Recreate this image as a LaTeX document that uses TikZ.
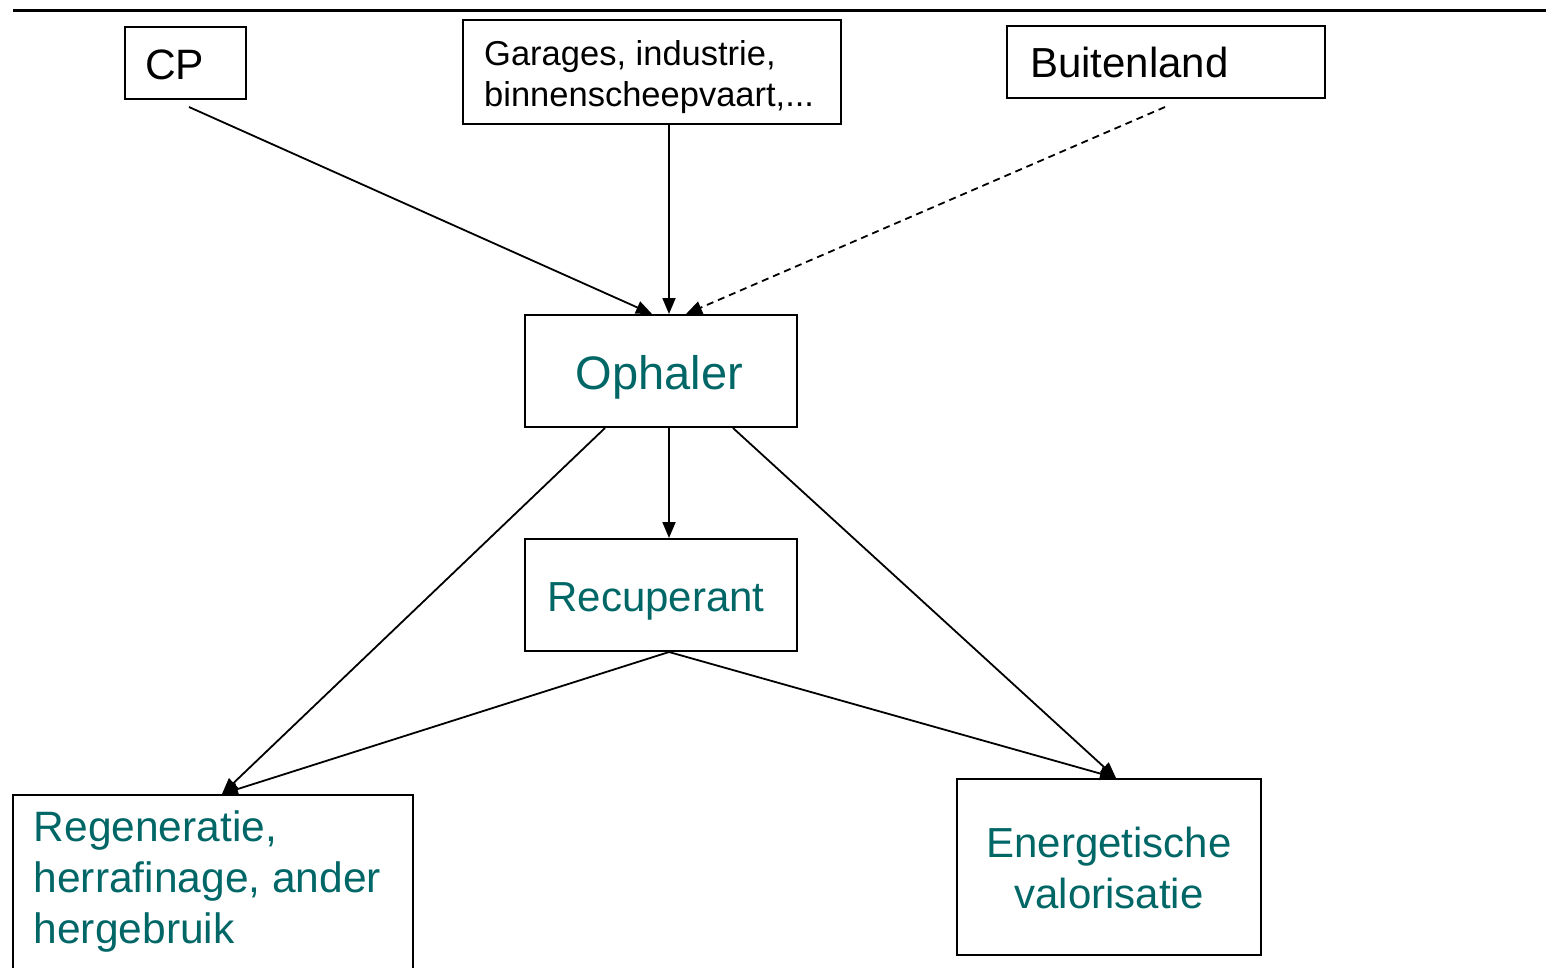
\documentclass[tikz,border=0pt]{standalone}
\usepackage{fontspec}
\setmainfont{Liberation Sans}
\usetikzlibrary{arrows.meta,calc}
\definecolor{tealtext}{RGB}{0,102,102}
\begin{document}
\begin{tikzpicture}[x=1pt,y=-1pt,
  box/.style={draw=black,line width=2pt,rectangle,inner sep=0pt},
  lbl/.style={inner sep=0pt,text=black},
  tl/.style={inner sep=0pt,text=tealtext},
  arr/.style={draw=black,line width=1.8pt,-{Triangle[length=16pt,width=13pt]}},
  dsh/.style={arr,dash pattern=on 7pt off 5pt}]
\useasboundingbox (0,0) rectangle (1546,967);
\clip (0,0) rectangle (1546,967);
% top rule
\coordinate (ruleL) at (13,10);
\coordinate (ruleR) at (1546,10);
\draw[line width=3pt] (ruleL) -- (ruleR);
% boxes
\node[box,minimum width=121pt,minimum height=72pt] (cp) at (185.5,63) {};
\node[box,minimum width=378pt,minimum height=104pt] (gar) at (652,72) {};
\node[box,minimum width=318pt,minimum height=72pt] (bui) at (1166,62) {};
\node[box,minimum width=272pt,minimum height=112pt] (oph) at (661,371) {};
\node[box,minimum width=272pt,minimum height=112pt] (rec) at (661,595) {};
\node[box,minimum width=400pt,minimum height=200pt] (reg) at (213,895) {};
\node[box,minimum width=304pt,minimum height=176pt] (ene) at (1109,867) {};
% texts (multi-line nodes: base = last line's baseline)
\node[lbl,anchor=base west,font=\fontsize{42.5}{50}\selectfont] (cpt) at (145,79) {CP};
\node[lbl,anchor=base west,align=left,font=\fontsize{34.5}{41}\selectfont] (gart) at (484,106) {Garages, industrie,\\binnenscheepvaart,...};
\node[lbl,anchor=base west,font=\fontsize{42}{50}\selectfont] (buit) at (1030,77) {Buitenland};
\node[tl,anchor=base,font=\fontsize{47}{56}\selectfont] (opht) at (659.5,389) {Ophaler};
\node[tl,anchor=base,font=\fontsize{42}{50}\selectfont] (rect) at (656,611) {Recuperant};
\node[tl,anchor=base west,align=left,font=\fontsize{42.5}{51}\selectfont] (regt) at (33.5,943) {Regeneratie,\\herrafinage, ander\\hergebruik};
\node[tl,anchor=base,align=center,font=\fontsize{42}{51}\selectfont] (enet) at (1109,908) {Energetische\\valorisatie};
% connector start points
\coordinate (cpo) at (189,107);
\coordinate (buio) at (1165,107);
% connectors
\draw[arr] (cpo) -- ($(oph.north)+(-9,0)$);
\draw[arr] ($(gar.south)+(17,0)$) -- ($(oph.north)+(8,0)$);
\draw[dsh] (buio) -- ($(oph.north)+(25,0)$);
\draw[arr] ($(oph.south)+(8,0)$) -- ($(rec.north)+(8,0)$);
\draw[arr] ($(oph.south)+(-56,0)$) -- ($(reg.north)+(9,0)$);
\draw[arr] ($(oph.south)+(72,0)$) -- ($(ene.north)+(7,0)$);
\draw[arr] ($(rec.south)+(8,0)$) -- ($(reg.north)+(9,0)$);
\draw[arr] ($(rec.south)+(8,0)$) -- ($(ene.north)+(7,0)$);
\end{tikzpicture}
\end{document}
